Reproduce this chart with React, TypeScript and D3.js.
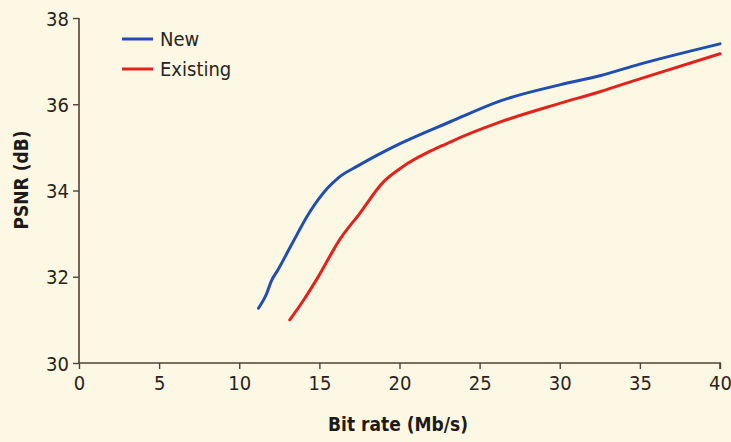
import React, { useEffect, useRef } from "react";
import * as d3 from "d3";

const xTicks = [0, 5, 10, 15, 20, 25, 30, 35, 40];
const yTicks = [30, 32, 34, 36, 38];

const newBitrate = [11.2, 11.7, 12.0, 12.4, 13.2, 14.4, 15.5, 16.2, 17.4, 20, 23.2, 26.3, 30, 32.5, 35, 40];
const newPsnr = [31.27, 31.6, 31.9, 32.15, 32.7, 33.5, 34.05, 34.3, 34.57, 35.08, 35.6, 36.08, 36.45, 36.66, 36.93, 37.4];

const existingBitrate = [13.15, 14.0, 14.85, 16.3, 17.5, 19.0, 20, 23.2, 26.3, 30, 32.5, 35, 40];
const existingPsnr = [31.0, 31.45, 31.95, 32.88, 33.46, 34.2, 34.5, 35.13, 35.59, 36.02, 36.29, 36.59, 37.17];

const seriesNames = ["New", "Existing"];
const seriesColors = ["#1f4db3", "#e3221b"];

const W = 731;
const H = 442;
const FONT = "'Liberation Sans Narrow', 'DejaVu Sans Condensed', 'Arial Narrow', sans-serif";

export default function App() {
  const ref = useRef<SVGSVGElement>(null);

  useEffect(() => {
    document.body.style.margin = "0";
    const svg = d3.select(ref.current);
    svg.selectAll("*").remove();

    const x = d3.scaleLinear().domain([0, 40]).range([79, 720]);
    const y = d3.scaleLinear().domain([30, 38]).range([363, 18]);
    const axisColor = "#4d4238";

    svg.append("rect").attr("width", W).attr("height", H).attr("fill", "#fdf8e3");

    const gx = svg.append("g").attr("transform", `translate(0,${y(30)})`)
      .call(d3.axisBottom(x).tickValues(xTicks).tickSize(6).tickPadding(4).tickFormat(d3.format("d")));
    const gy = svg.append("g").attr("transform", `translate(${x(0)},0)`)
      .call(d3.axisLeft(y).tickValues(yTicks).tickSize(6).tickPadding(4).tickFormat(d3.format("d")));

    [gx, gy].forEach((g) => {
      g.select(".domain").attr("stroke", axisColor).attr("stroke-width", 1.6);
      g.selectAll(".tick line").attr("stroke", axisColor).attr("stroke-width", 1.4);
      g.selectAll(".tick text").attr("fill", "#2a2420").attr("font-family", FONT).attr("font-size", 20);
    });
    gx.select(".domain").attr("d", `M${x(0)},0H${x(40)}V6`);
    gy.select(".domain").attr("d", `M-6,${y(38) - y(30) + 0}`).attr("d", `M-6,${y(38) - y(30)}`);
    gy.select(".domain").attr("d", `M-6,${y(38) - y(30)}`);
    gy.select(".domain").attr("d", null);
    svg.append("line").attr("x1", x(0)).attr("x2", x(0)).attr("y1", y(38)).attr("y2", y(30))
      .attr("stroke", axisColor).attr("stroke-width", 1.6);
    gx.selectAll(".tick text").attr("dy", "0.85em");
    gy.selectAll(".tick text").attr("dy", "0.36em");

    const line = d3.line<[number, number]>()
      .x((d) => x(d[0]))
      .y((d) => y(d[1]))
      .curve(d3.curveMonotoneX);

    const series = [
      newBitrate.map((b, i) => [b, newPsnr[i]] as [number, number]),
      existingBitrate.map((b, i) => [b, existingPsnr[i]] as [number, number]),
    ];

    series.forEach((pts, i) => {
      svg.append("path").attr("d", line(pts)).attr("fill", "none")
        .attr("stroke", seriesColors[i]).attr("stroke-width", 3).attr("stroke-linecap", "round");
    });

    // legend
    seriesNames.forEach((name, i) => {
      const ly = 39 + i * 30;
      svg.append("line").attr("x1", 122).attr("x2", 153).attr("y1", ly).attr("y2", ly)
        .attr("stroke", seriesColors[i]).attr("stroke-width", 3);
      svg.append("text").attr("x", 160).attr("y", ly).attr("dy", "0.36em")
        .attr("font-family", FONT).attr("font-size", 20).attr("fill", "#2a2420").text(name);
    });

    svg.append("text").attr("x", 398).attr("y", 431).attr("text-anchor", "middle")
      .attr("font-family", FONT).attr("font-weight", "bold").attr("font-size", 19)
      .attr("fill", "#1e1a17").text("Bit rate (Mb/s)");
    svg.append("text").attr("transform", `translate(28,180) rotate(-90)`).attr("text-anchor", "middle")
      .attr("font-family", FONT).attr("font-weight", "bold").attr("font-size", 19)
      .attr("fill", "#1e1a17").text("PSNR (dB)");
  }, []);

  return <svg ref={ref} width={W} height={H} style={{ display: "block" }} />;
}
